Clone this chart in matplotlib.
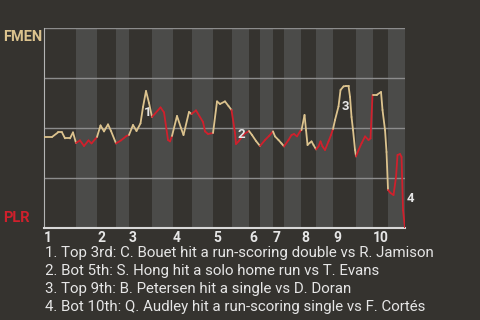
import matplotlib

matplotlib.use("Agg")
import matplotlib.pyplot as plt  # noqa: E402
import numpy as np  # noqa: E402

plt.rcParams["font.family"] = ["Roboto", "DejaVu Sans"]

# half-inning start positions (event index); last value closes the game
half_starts = [0, 8.95, 14.83, 20.15, 23.78, 30.22, 36.09, 41.41, 47.29, 52.60,
               57.36, 60.44, 64.07, 67.15, 71.91, 76.11, 80.86, 87.30, 92.05, 96.25, 101.0]
innings = ["1", "2", "3", "4", "5", "6", "7", "8", "9", "10"]

# FMEN win probability after each event
event_x = [0, 2.24, 3.92, 5.04, 5.88, 7.27, 8.11, 8.95,
           10.07, 11.19, 12.45, 13.29, 14.83,
           15.81, 16.79, 17.91, 18.75, 20.15,
           21.54, 23.08, 23.78,
           24.90, 25.88, 27.0, 27.70, 28.54, 29.38, 30.22,
           32.6, 33.58, 34.70, 35.25, 35.81,
           37.21, 38.33, 39.03, 40.57, 41.27,
           42.53, 44.49, 45.05, 45.89, 47.29,
           48.41, 49.24, 50.64, 51.62, 52.46,
           53.44, 53.72, 54.42, 55.96, 57.36,
           58.2, 59.32, 60.44,
           61.84, 62.96, 64.07,
           64.63, 65.61, 66.45, 67.15,
           68.41, 69.25, 69.95, 70.79, 71.63, 72.05,
           72.89, 73.31, 73.73, 74.29, 74.85, 75.41, 76.11,
           76.80, 77.36, 77.92, 78.62, 79.60, 80.30, 80.86,
           81.42, 82.40, 82.96, 83.80, 84.50, 85.20, 85.62, 86.04, 86.46, 87.02, 87.30,
           88.0, 88.84, 89.82, 90.79, 91.35, 91.91,
           93.03, 94.29, 94.71, 95.41, 95.83, 96.25,
           96.95, 97.79, 98.49, 98.91, 99.61, 100.03, 100.45, 101.0]
win_prob = [0.455, 0.455, 0.478, 0.478, 0.448, 0.448, 0.478, 0.425,
            0.438, 0.41, 0.438, 0.423, 0.455,
            0.513, 0.483, 0.518, 0.485, 0.423,
            0.438, 0.46, 0.465,
            0.515, 0.485, 0.523, 0.605, 0.685, 0.625, 0.555,
            0.603, 0.578, 0.44, 0.433, 0.46,
            0.56, 0.50, 0.465, 0.58, 0.57,
            0.588, 0.53, 0.483, 0.47, 0.475,
            0.633, 0.62, 0.633, 0.61, 0.59,
            0.475, 0.42, 0.433, 0.47, 0.485,
            0.465, 0.435, 0.41,
            0.44, 0.46, 0.483,
            0.458, 0.44, 0.423, 0.408,
            0.44, 0.465, 0.47, 0.458, 0.483, 0.49,
            0.565, 0.49, 0.415, 0.425, 0.433, 0.415, 0.393,
            0.408, 0.433, 0.408, 0.39, 0.433, 0.465, 0.495,
            0.54, 0.608, 0.69, 0.708, 0.71, 0.71, 0.655, 0.555, 0.49, 0.39, 0.358,
            0.39, 0.423, 0.458, 0.44, 0.448, 0.665,
            0.665, 0.68, 0.59, 0.49, 0.38, 0.19,
            0.175, 0.165, 0.255, 0.365, 0.37, 0.355, 0.09, 0.0]

# key plays: marker label, x, y
key_labels = ["1", "2", "3", "4"]
key_x = [29.1, 55.3, 84.2, 102.4]
key_y = [0.58, 0.465, 0.605, 0.145]
key_notes = [
    "1. Top 3rd: C. Bouet hit a run-scoring double vs R. Jamison",
    "2. Bot 5th: S. Hong hit a solo home run vs T. Evans",
    "3. Top 9th: B. Petersen hit a single vs D. Doran",
    "4. Bot 10th: Q. Audley hit a run-scoring single vs F. Cortés",
]

BG = "#35332f"
BAND = "#4b4b49"
AWAY = "#dcc38e"
HOME = "#d0202c"
TEXT = "#e6e6e6"

fig = plt.figure(figsize=(4.8, 3.2), dpi=100, facecolor=BG)
ax = fig.add_axes([44 / 480, 92 / 320, 361 / 480, 200 / 320])
ax.set_facecolor(BG)

# bottom halves shaded
for i in range(1, len(half_starts) - 1, 2):
    ax.axvspan(half_starts[i], half_starts[i + 1], color=BAND, lw=0, zorder=0)

for gy in (0.25, 0.5, 0.75, 1.0):
    ax.axhline(gy, color="#8c8c8c", lw=1.0, zorder=1)

# colour each segment by the batting team of its half-inning
xs = np.array(event_x)
ys = np.array(win_prob)
starts = np.array(half_starts)
for i in range(len(xs) - 1):
    mid = (xs[i] + xs[i + 1]) / 2
    half = np.searchsorted(starts, mid) - 1
    color = AWAY if half % 2 == 0 else HOME
    ax.plot(xs[i:i + 2], ys[i:i + 2], color=color, lw=1.3, solid_capstyle="round", zorder=3)

for lab, kx, ky in zip(key_labels, key_x, key_y):
    ax.text(kx, ky, lab, color=TEXT, fontsize=9.5, fontweight="bold",
            ha="center", va="center", zorder=4, clip_on=False)

ax.set_xlim(half_starts[0], half_starts[-1])
ax.set_ylim(0, 1)
ax.set_xticks([])
ax.set_yticks([])
for side in ("top", "right"):
    ax.spines[side].set_visible(False)
ax.spines["left"].set_color("#b4b4b4")
ax.spines["bottom"].set_color("#d8d8d8")
ax.spines["bottom"].set_linewidth(1.5)

for lab, x0 in zip(innings, half_starts[0:-1:2]):
    ax.text(x0, -0.015, lab, color=TEXT, fontsize=10, fontweight="bold",
            ha="left", va="top", transform=ax.get_xaxis_transform())

fig.text(3 / 480, 1 - 37 / 320, "FMEN", color=AWAY, fontsize=10.5, fontweight="bold",
         ha="left", va="center")
fig.text(3 / 480, 1 - 218 / 320, "PLR", color=HOME, fontsize=10.5, fontweight="bold",
         ha="left", va="center")

for i, note in enumerate(key_notes):
    fig.text(45 / 480, 1 - (253 + i * 17.9) / 320, note, color=TEXT, fontsize=10.8,
             ha="left", va="center")

fig.savefig("out.png", dpi=100, facecolor=BG)
plt.close(fig)
